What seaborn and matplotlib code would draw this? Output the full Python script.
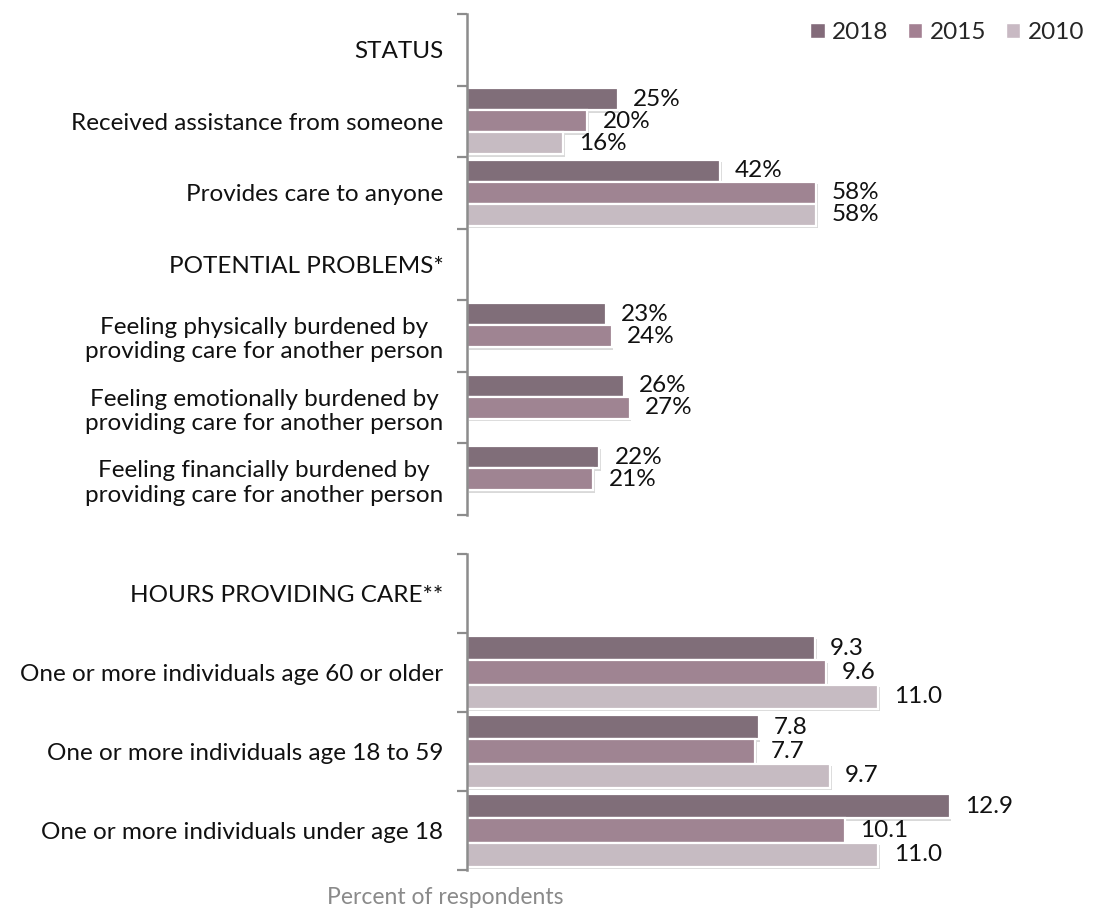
import numpy as np
import pandas as pd
import matplotlib
matplotlib.use("Agg")
import matplotlib.pyplot as plt
import matplotlib.patheffects as pe
from matplotlib.patches import Patch
import seaborn as sns

# ---- data ----
years = ["2018", "2015", "2010"]
colors = ["#836b7a", "#a38092", "#c8b9c3"]

top_rows = [
    "STATUS",
    "Received assistance from someone",
    "Provides care to anyone",
    "POTENTIAL PROBLEMS*",
    "Feeling physically burdened by\nproviding care for another person",
    "Feeling emotionally burdened by\nproviding care for another person",
    "Feeling financially burdened by\nproviding care for another person",
]
top_2018 = [np.nan, 25, 42, np.nan, 23, 26, 22]
top_2015 = [np.nan, 20, 58, np.nan, 24, 27, 21]
top_2010 = [np.nan, 16, 58, np.nan, np.nan, np.nan, np.nan]

hour_rows = [
    "HOURS PROVIDING CARE**",
    "One or more individuals age 60 or older",
    "One or more individuals age 18 to 59",
    "One or more individuals under age 18",
]
hour_2018 = [np.nan, 9.3, 7.8, 12.9]
hour_2015 = [np.nan, 9.6, 7.7, 10.1]
hour_2010 = [np.nan, 11.0, 9.7, 11.0]

x_label = "Percent of respondents"


def long_frame(rows, series):
    recs = []
    for yr, vals in zip(years, series):
        for r, v in zip(rows, vals):
            if not np.isnan(v):
                recs.append({"row": r, "year": yr, "value": v})
    return pd.DataFrame(recs)


sns.set_theme(style="white")
plt.rcParams["font.family"] = ["Lato", "DejaVu Sans"]

fig = plt.figure(figsize=(10.97, 9.11), dpi=100)
ax_top = fig.add_axes([0.4257, 0.4347, 0.549, 0.550])
ax_bot = fig.add_axes([0.4257, 0.045, 0.549, 0.3469])

panels = [
    (ax_top, top_rows, [top_2018, top_2015, top_2010], 100, "{:.0f}%"),
    (ax_bot, hour_rows, [hour_2018, hour_2015, hour_2010], 16.1, "{:.1f}"),
]

FS = 17.5
shadow = [pe.SimplePatchShadow(offset=(1.2, -1.8), shadow_rgbFace="black", alpha=0.15),
          pe.Normal()]

for ax, rows, series, xmax, fmt in panels:
    df = long_frame(rows, series)
    sns.barplot(data=df, y="row", x="value", hue="year", order=rows,
                hue_order=years, palette=colors, width=0.92, gap=0,
                edgecolor="white", linewidth=1.6, ax=ax, legend=False,
                errorbar=None)
    for patch in ax.patches:
        patch.set_path_effects(shadow)
    for cont in ax.containers:
        ax.bar_label(cont, fmt=fmt, padding=11, fontsize=FS, color="#111111")

    n = len(rows)
    ax.set_xlim(0, xmax)
    ax.set_ylim(n - 0.5, -0.5)
    ax.set_xlabel("")
    ax.set_ylabel("")
    ax.set_xticks([])
    ax.set_yticks(range(n))
    ax.set_yticklabels(rows, fontsize=FS, color="#111111", ha="right",
                       multialignment="center")
    ax.set_yticks(np.arange(-0.5, n, 1.0), minor=True)
    ax.tick_params(axis="y", which="major", length=0, pad=17)
    ax.tick_params(axis="y", which="minor", length=7, width=1.6,
                   color="#8c8c8c", direction="out", left=True)
    for side in ["top", "right", "bottom"]:
        ax.spines[side].set_visible(False)
    ax.spines["left"].set_color("#8c8c8c")
    ax.spines["left"].set_linewidth(1.8)
    ax.set_facecolor("none")

handles = [Patch(facecolor=c, edgecolor="white", label=y) for c, y in zip(colors, years)]
fig.legend(handles=handles, loc="upper right", bbox_to_anchor=(1.008, 1.0),
           ncol=3, frameon=False, fontsize=FS, handlelength=0.6,
           handleheight=0.6, handletextpad=0.3, columnspacing=0.8)

fig.text(0.406, 0.015, x_label, color="#8a8a8a", fontsize=16.5,
         ha="center", va="center")

fig.savefig("out.png", dpi=100)
